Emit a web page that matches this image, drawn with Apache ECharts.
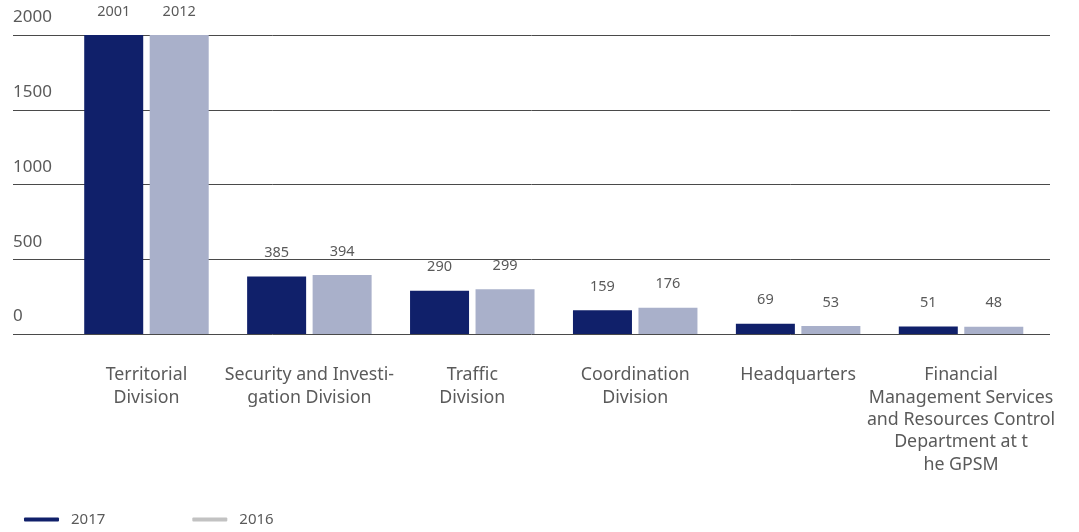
<!DOCTYPE html>
<html>
<head>
<meta charset="utf-8">
<script src="https://cdn.jsdelivr.net/npm/echarts@6/dist/echarts.min.js"></script>
<style>html,body{margin:0;padding:0;background:#fff;}#c{width:1079px;height:532px;}</style>
</head>
<body>
<div id="c"></div>
<script>
const categories = [
  "Territorial\nDivision",
  "Security and Investi-\ngation Division",
  "Traffic\nDivision",
  "Coordination\nDivision",
  "Headquarters",
  "Financial\nManagement Services\nand Resources Control\nDepartment at t\nhe GPSM"
];
const values2017 = [2001, 385, 290, 159, 69, 51];
const values2016 = [2012, 394, 299, 176, 53, 48];
const yTicks = [0, 500, 1000, 1500, 2000];

const FONT = '"Noto Sans"';
const chart = echarts.init(document.getElementById('c'));
chart.setOption({
  animation: false,
  textStyle: { fontFamily: FONT },
  grid: [
    { left: 13, right: 29, top: 35, bottom: 198 },
    { left: 65, right: 36.5, top: 35, bottom: 198 }
  ],
  xAxis: [
    { gridIndex: 0, type: 'value', show: false, min: 0, max: 1 },
    {
      gridIndex: 1, type: 'category', data: categories,
      axisLine: { show: false }, axisTick: { show: false },
      axisLabel: { margin: 30, color: '#5a5a5a', fontSize: 17.8, lineHeight: 22.4, fontFamily: FONT, interval: 0 }
    }
  ],
  yAxis: [
    {
      gridIndex: 0, type: 'value', min: yTicks[0], max: yTicks[yTicks.length - 1], interval: 500,
      axisLine: { show: false }, axisTick: { show: false },
      splitLine: { show: true, lineStyle: { color: '#4a4a4a', width: 1 } },
      axisLabel: { inside: true, margin: 0, verticalAlign: 'bottom', padding: [0, 0, 9, 0], color: '#5a5a5a', fontSize: 17, fontFamily: FONT, formatter: v => String(v) }
    },
    { gridIndex: 1, type: 'value', min: 0, max: 2000, show: false, splitLine: { show: false } }
  ],
  legend: {
    left: 19, bottom: 0,
    itemWidth: 35, itemHeight: 4, itemGap: 87,
    icon: 'roundRect',
    textStyle: { color: '#5a5a5a', fontSize: 15, padding: [0, 0, 0, 7], fontFamily: FONT },
    data: [
      { name: '2017', itemStyle: { color: '#10206a' } },
      { name: '2016', itemStyle: { color: '#c2c2c2' } }
    ]
  },
  series: [
    {
      name: '2017', type: 'bar', xAxisIndex: 1, yAxisIndex: 1, data: values2017,
      barWidth: 59, barGap: '11%',
      itemStyle: { color: '#10206a' },
      label: { show: true, position: 'top', distance: 16, color: '#5a5a5a', fontSize: 14.5, fontFamily: FONT }
    },
    {
      name: '2016', type: 'bar', xAxisIndex: 1, yAxisIndex: 1, data: values2016,
      barWidth: 59,
      itemStyle: { color: '#a9b0ca' },
      label: { show: true, position: 'top', distance: 16, color: '#5a5a5a', fontSize: 14.5, fontFamily: FONT }
    }
  ]
});
</script>
</body>
</html>
